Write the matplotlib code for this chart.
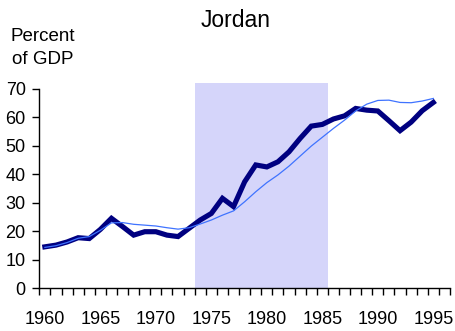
import numpy as np
import matplotlib
matplotlib.use("Agg")
from matplotlib import pyplot as plt

# yearly data, percent of GDP
years = list(range(1960, 1996))
actual = [14.6, 15.2, 16.3, 17.8, 17.5, 20.7, 24.6, 21.7, 18.7, 19.9,
          19.9, 18.7, 18.2, 21.1, 24.0, 26.3, 31.6, 28.7, 37.4, 43.3,
          42.6, 44.4, 47.9, 52.6, 56.9, 57.5, 59.4, 60.5, 63.1, 62.5,
          62.2, 58.8, 55.3, 58.3, 62.3, 65.2]
trend = [14.4, 15.0, 16.1, 17.6, 18.2, 20.4, 23.0, 23.1, 22.5, 22.2,
         21.9, 21.3, 20.8, 21.3, 22.6, 24.0, 25.7, 27.2, 30.4, 33.9,
         37.1, 39.8, 42.9, 46.4, 49.9, 53.0, 56.1, 59.0, 62.2, 64.6,
         65.9, 66.0, 65.2, 65.1, 65.7, 66.6]

# shaded period (first and last year of the band)
band_years = (1974, 1985)
band_top = 72.1

year_labels = [1960, 1965, 1970, 1975, 1980, 1985, 1990, 1995]
y_ticks = [0, 10, 20, 30, 40, 50, 60, 70]

plt.rcParams["font.family"] = ["Liberation Sans", "DejaVu Sans"]

fig = plt.figure(figsize=(4.56, 3.31), dpi=100)
ax = fig.add_axes([0.0862, 0.1284, 0.9006, 0.6216])

# shaded band covering whole category slots
ax.bar((band_years[0] + band_years[1]) / 2, band_top,
       width=band_years[1] - band_years[0] + 1, bottom=0,
       color="#d5d5fa", edgecolor="none", zorder=1)

ax.plot(years, actual, color="#000080", linewidth=3.7,
        solid_joinstyle="miter", zorder=3)
ax.plot(years, trend, color="#3f73ff", linewidth=0.9, zorder=4)

ax.set_xlim(1959.5, 1996.5)
ax.set_ylim(0, band_top)

# category style axis: tick marks between years, labels on the years
ax.set_xticks(year_labels)
ax.set_xticklabels([str(y) for y in year_labels])
ax.set_xticks(np.arange(1959.5, 1997, 1.0), minor=True)
ax.tick_params(axis="x", which="major", length=0, pad=16, labelsize=13)
ax.tick_params(axis="x", which="minor", length=4.8, width=1,
               direction="out", color="black")

ax.set_yticks(y_ticks)
ax.tick_params(axis="y", length=4.8, width=1, direction="out", pad=5,
               labelsize=13)

ax.spines["top"].set_visible(False)
ax.spines["right"].set_visible(False)
ax.spines["left"].set_bounds(0, 70)
for side in ("left", "bottom"):
    ax.spines[side].set_linewidth(1)

fig.text(0.5175, 0.919, "Jordan", ha="center", va="baseline", fontsize=16.5)
fig.text(0.093, 0.876, "Percent", ha="center", va="baseline", fontsize=13.5)
fig.text(0.093, 0.807, "of GDP", ha="center", va="baseline", fontsize=13.5)

fig.savefig("out.png", dpi=100)
